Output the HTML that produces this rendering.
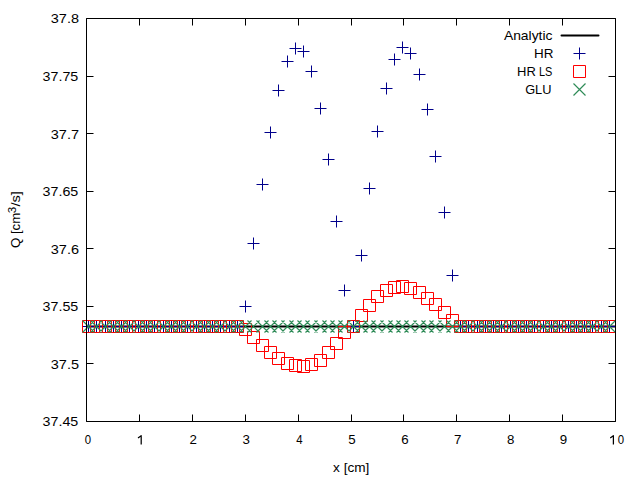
<!DOCTYPE html>
<html><head><meta charset="utf-8"><style>
html,body{margin:0;padding:0;background:#fff;}
svg{display:block;}
text{font-family:"Liberation Sans",sans-serif;font-size:13.3px;fill:#000;}
</style></head><body>
<svg width="640" height="480" viewBox="0 0 640 480">
<rect width="640" height="480" fill="#fff"/>
<defs><clipPath id="c"><rect x="86.5" y="18.5" width="529.0" height="403.0"/></clipPath></defs>
<g clip-path="url(#c)">
<path d="M86.5 326.5H615.5" stroke="#000" stroke-width="2"/>
</g>
<path d="M82.50 326.50h12M88.50 320.50v12M90.50 326.50h12M96.50 320.50v12M99.50 326.50h12M105.50 320.50v12M107.50 326.50h12M113.50 320.50v12M115.50 326.50h12M121.50 320.50v12M123.50 326.50h12M129.50 320.50v12M132.50 326.50h12M138.50 320.50v12M140.50 326.50h12M146.50 320.50v12M148.50 326.50h12M154.50 320.50v12M157.50 326.50h12M163.50 320.50v12M165.50 326.50h12M171.50 320.50v12M173.50 326.50h12M179.50 320.50v12M181.50 326.50h12M187.50 320.50v12M190.50 326.50h12M196.50 320.50v12M198.50 326.50h12M204.50 320.50v12M206.50 326.50h12M212.50 320.50v12M214.50 326.50h12M220.50 320.50v12M223.50 326.50h12M229.50 320.50v12M231.50 326.50h12M237.50 320.50v12M239.50 306.50h12M245.50 300.50v12M247.50 243.50h12M253.50 237.50v12M256.50 184.50h12M262.50 178.50v12M264.50 132.50h12M270.50 126.50v12M272.50 90.50h12M278.50 84.50v12M281.50 61.50h12M287.50 55.50v12M289.50 48.50h12M295.50 42.50v12M297.50 51.50h12M303.50 45.50v12M305.50 71.50h12M311.50 65.50v12M314.50 108.50h12M320.50 102.50v12M322.50 159.50h12M328.50 153.50v12M330.50 221.50h12M336.50 215.50v12M338.50 290.50h12M344.50 284.50v12M347.50 326.50h12M353.50 320.50v12M355.50 255.50h12M361.50 249.50v12M363.50 188.50h12M369.50 182.50v12M371.50 131.50h12M377.50 125.50v12M380.50 88.50h12M386.50 82.50v12M388.50 59.50h12M394.50 53.50v12M396.50 47.50h12M402.50 41.50v12M404.50 53.50h12M410.50 47.50v12M413.50 74.50h12M419.50 68.50v12M421.50 109.50h12M427.50 103.50v12M429.50 156.50h12M435.50 150.50v12M438.50 212.50h12M444.50 206.50v12M446.50 275.50h12M452.50 269.50v12M454.50 326.50h12M460.50 320.50v12M462.50 326.50h12M468.50 320.50v12M471.50 326.50h12M477.50 320.50v12M479.50 326.50h12M485.50 320.50v12M487.50 326.50h12M493.50 320.50v12M495.50 326.50h12M501.50 320.50v12M504.50 326.50h12M510.50 320.50v12M512.50 326.50h12M518.50 320.50v12M520.50 326.50h12M526.50 320.50v12M528.50 326.50h12M534.50 320.50v12M537.50 326.50h12M543.50 320.50v12M545.50 326.50h12M551.50 320.50v12M553.50 326.50h12M559.50 320.50v12M562.50 326.50h12M568.50 320.50v12M570.50 326.50h12M576.50 320.50v12M578.50 326.50h12M584.50 320.50v12M586.50 326.50h12M592.50 320.50v12M595.50 326.50h12M601.50 320.50v12M603.50 326.50h12M609.50 320.50v12" fill="none" stroke="#00008b" stroke-width="1.0"/>
<path d="M82.50 320.50h12v12h-12ZM90.50 320.50h12v12h-12ZM99.50 320.50h12v12h-12ZM107.50 320.50h12v12h-12ZM115.50 320.50h12v12h-12ZM123.50 320.50h12v12h-12ZM132.50 320.50h12v12h-12ZM140.50 320.50h12v12h-12ZM148.50 320.50h12v12h-12ZM157.50 320.50h12v12h-12ZM165.50 320.50h12v12h-12ZM173.50 320.50h12v12h-12ZM181.50 320.50h12v12h-12ZM190.50 320.50h12v12h-12ZM198.50 320.50h12v12h-12ZM206.50 320.50h12v12h-12ZM214.50 320.50h12v12h-12ZM223.50 320.50h12v12h-12ZM231.50 320.50h12v12h-12ZM239.50 323.50h12v12h-12ZM247.50 331.50h12v12h-12ZM256.50 339.50h12v12h-12ZM264.50 346.50h12v12h-12ZM272.50 352.50h12v12h-12ZM281.50 357.50h12v12h-12ZM289.50 359.50h12v12h-12ZM297.50 360.50h12v12h-12ZM305.50 358.50h12v12h-12ZM314.50 354.50h12v12h-12ZM322.50 346.50h12v12h-12ZM330.50 337.50h12v12h-12ZM338.50 326.50h12v12h-12ZM347.50 320.50h12v12h-12ZM355.50 309.50h12v12h-12ZM363.50 299.50h12v12h-12ZM371.50 290.50h12v12h-12ZM380.50 284.50h12v12h-12ZM388.50 281.50h12v12h-12ZM396.50 280.50h12v12h-12ZM404.50 282.50h12v12h-12ZM413.50 286.50h12v12h-12ZM421.50 292.50h12v12h-12ZM429.50 298.50h12v12h-12ZM438.50 306.50h12v12h-12ZM446.50 314.50h12v12h-12ZM454.50 320.50h12v12h-12ZM462.50 320.50h12v12h-12ZM471.50 320.50h12v12h-12ZM479.50 320.50h12v12h-12ZM487.50 320.50h12v12h-12ZM495.50 320.50h12v12h-12ZM504.50 320.50h12v12h-12ZM512.50 320.50h12v12h-12ZM520.50 320.50h12v12h-12ZM528.50 320.50h12v12h-12ZM537.50 320.50h12v12h-12ZM545.50 320.50h12v12h-12ZM553.50 320.50h12v12h-12ZM562.50 320.50h12v12h-12ZM570.50 320.50h12v12h-12ZM578.50 320.50h12v12h-12ZM586.50 320.50h12v12h-12ZM595.50 320.50h12v12h-12ZM603.50 320.50h12v12h-12Z" fill="none" stroke="#ff0000" stroke-width="1.0"/>
<path d="M82.50 320.50l12 12M82.50 332.50l12 -12M90.50 320.50l12 12M90.50 332.50l12 -12M99.50 320.50l12 12M99.50 332.50l12 -12M107.50 320.50l12 12M107.50 332.50l12 -12M115.50 320.50l12 12M115.50 332.50l12 -12M123.50 320.50l12 12M123.50 332.50l12 -12M132.50 320.50l12 12M132.50 332.50l12 -12M140.50 320.50l12 12M140.50 332.50l12 -12M148.50 320.50l12 12M148.50 332.50l12 -12M157.50 320.50l12 12M157.50 332.50l12 -12M165.50 320.50l12 12M165.50 332.50l12 -12M173.50 320.50l12 12M173.50 332.50l12 -12M181.50 320.50l12 12M181.50 332.50l12 -12M190.50 320.50l12 12M190.50 332.50l12 -12M198.50 320.50l12 12M198.50 332.50l12 -12M206.50 320.50l12 12M206.50 332.50l12 -12M214.50 320.50l12 12M214.50 332.50l12 -12M223.50 320.50l12 12M223.50 332.50l12 -12M231.50 320.50l12 12M231.50 332.50l12 -12M239.50 320.50l12 12M239.50 332.50l12 -12M247.50 320.50l12 12M247.50 332.50l12 -12M256.50 320.50l12 12M256.50 332.50l12 -12M264.50 320.50l12 12M264.50 332.50l12 -12M272.50 320.50l12 12M272.50 332.50l12 -12M281.50 320.50l12 12M281.50 332.50l12 -12M289.50 320.50l12 12M289.50 332.50l12 -12M297.50 320.50l12 12M297.50 332.50l12 -12M305.50 320.50l12 12M305.50 332.50l12 -12M314.50 320.50l12 12M314.50 332.50l12 -12M322.50 320.50l12 12M322.50 332.50l12 -12M330.50 320.50l12 12M330.50 332.50l12 -12M338.50 320.50l12 12M338.50 332.50l12 -12M347.50 320.50l12 12M347.50 332.50l12 -12M355.50 320.50l12 12M355.50 332.50l12 -12M363.50 320.50l12 12M363.50 332.50l12 -12M371.50 320.50l12 12M371.50 332.50l12 -12M380.50 320.50l12 12M380.50 332.50l12 -12M388.50 320.50l12 12M388.50 332.50l12 -12M396.50 320.50l12 12M396.50 332.50l12 -12M404.50 320.50l12 12M404.50 332.50l12 -12M413.50 320.50l12 12M413.50 332.50l12 -12M421.50 320.50l12 12M421.50 332.50l12 -12M429.50 320.50l12 12M429.50 332.50l12 -12M438.50 320.50l12 12M438.50 332.50l12 -12M446.50 320.50l12 12M446.50 332.50l12 -12M454.50 320.50l12 12M454.50 332.50l12 -12M462.50 320.50l12 12M462.50 332.50l12 -12M471.50 320.50l12 12M471.50 332.50l12 -12M479.50 320.50l12 12M479.50 332.50l12 -12M487.50 320.50l12 12M487.50 332.50l12 -12M495.50 320.50l12 12M495.50 332.50l12 -12M504.50 320.50l12 12M504.50 332.50l12 -12M512.50 320.50l12 12M512.50 332.50l12 -12M520.50 320.50l12 12M520.50 332.50l12 -12M528.50 320.50l12 12M528.50 332.50l12 -12M537.50 320.50l12 12M537.50 332.50l12 -12M545.50 320.50l12 12M545.50 332.50l12 -12M553.50 320.50l12 12M553.50 332.50l12 -12M562.50 320.50l12 12M562.50 332.50l12 -12M570.50 320.50l12 12M570.50 332.50l12 -12M578.50 320.50l12 12M578.50 332.50l12 -12M586.50 320.50l12 12M586.50 332.50l12 -12M595.50 320.50l12 12M595.50 332.50l12 -12M603.50 320.50l12 12M603.50 332.50l12 -12" fill="none" stroke="#2e8b57" stroke-width="1.15"/>
<path d="M86.5 18.5H615.5V421.5H86.5ZM86.50 421.5v-7M86.50 18.5v7M139.50 421.5v-7M139.50 18.5v7M192.50 421.5v-7M192.50 18.5v7M245.50 421.5v-7M245.50 18.5v7M298.50 421.5v-7M298.50 18.5v7M351.50 421.5v-7M351.50 18.5v7M403.50 421.5v-7M403.50 18.5v7M456.50 421.5v-7M456.50 18.5v7M509.50 421.5v-7M509.50 18.5v7M562.50 421.5v-7M562.50 18.5v7M615.50 421.5v-7M615.50 18.5v7M86.5 421.50h7M615.5 421.50h-7M86.5 363.50h7M615.5 363.50h-7M86.5 306.50h7M615.5 306.50h-7M86.5 248.50h7M615.5 248.50h-7M86.5 191.50h7M615.5 191.50h-7M86.5 133.50h7M615.5 133.50h-7M86.5 76.50h7M615.5 76.50h-7M86.5 18.50h7M615.5 18.50h-7" fill="none" stroke="#000" stroke-width="1"/>
<path d="M561.5 35.5H598.5" stroke="#000" stroke-width="2" stroke-linecap="round"/>
<path d="M573.5 53.5h12M579.5 47.5v12" stroke="#00008b" stroke-width="1.0" fill="none"/>
<path d="M573.5 65.5h12v12h-12Z" stroke="#ff0000" stroke-width="1.0" fill="none"/>
<path d="M573.5 83.5l12 12M573.5 95.5l12 -12" stroke="#2e8b57" stroke-width="1.15" fill="none"/>
<text x="42.63" y="426.00" textLength="35.67" lengthAdjust="spacingAndGlyphs">37.45</text>
<text x="50.81" y="369.00" textLength="28.16" lengthAdjust="spacingAndGlyphs">37.5</text>
<text x="42.63" y="311.00" textLength="35.67" lengthAdjust="spacingAndGlyphs">37.55</text>
<text x="50.81" y="254.00" textLength="28.16" lengthAdjust="spacingAndGlyphs">37.6</text>
<text x="42.63" y="196.00" textLength="35.67" lengthAdjust="spacingAndGlyphs">37.65</text>
<text x="50.81" y="139.00" textLength="28.16" lengthAdjust="spacingAndGlyphs">37.7</text>
<text x="42.63" y="81.00" textLength="35.67" lengthAdjust="spacingAndGlyphs">37.75</text>
<text x="50.81" y="23.00" textLength="28.16" lengthAdjust="spacingAndGlyphs">37.8</text>
<text x="84.75" y="444.00" textLength="6.35" lengthAdjust="spacingAndGlyphs">0</text>
<text x="189.55" y="444.00" textLength="7.41" lengthAdjust="spacingAndGlyphs">2</text>
<text x="242.45" y="444.00" textLength="7.41" lengthAdjust="spacingAndGlyphs">3</text>
<text x="296.35" y="444.00" textLength="6.35" lengthAdjust="spacingAndGlyphs">4</text>
<text x="348.25" y="444.00" textLength="7.41" lengthAdjust="spacingAndGlyphs">5</text>
<text x="401.15" y="444.00" textLength="7.41" lengthAdjust="spacingAndGlyphs">6</text>
<text x="454.05" y="444.00" textLength="7.41" lengthAdjust="spacingAndGlyphs">7</text>
<text x="506.95" y="444.00" textLength="7.41" lengthAdjust="spacingAndGlyphs">8</text>
<text x="559.85" y="444.00" textLength="7.41" lengthAdjust="spacingAndGlyphs">9</text>
<text x="617.70" y="444.00" textLength="6.35" lengthAdjust="spacingAndGlyphs">0</text>
<text x="503.90" y="40.00" textLength="48.59" lengthAdjust="spacingAndGlyphs">Analytic</text>
<text x="533.99" y="58.30" textLength="19.44" lengthAdjust="spacingAndGlyphs">HR</text>
<text x="517.02" y="76.30" textLength="18.77" lengthAdjust="spacingAndGlyphs">HR</text>
<text x="538.98" y="76.30" textLength="13.34" lengthAdjust="spacingAndGlyphs">LS</text>
<text x="525.14" y="94.20" textLength="26.29" lengthAdjust="spacingAndGlyphs">GLU</text>
<text x="333.10" y="471.70" textLength="36.28" lengthAdjust="spacingAndGlyphs">x [cm]</text>
<path d="M141.20 435.2V444.6M138.00 437.9L141.50 435.4M613.40 435.2V444.6M610.20 437.9L613.70 435.4" stroke="#000" stroke-width="1.25" fill="none"/>
<text transform="rotate(-90)" x="-248.09" y="20.20" textLength="35.26" lengthAdjust="spacingAndGlyphs">Q [cm</text>
<text transform="rotate(-90)" x="-213.27" y="15.80" textLength="6.42" lengthAdjust="spacingAndGlyphs" style="font-size:10.6px">3</text>
<text transform="rotate(-90)" x="-206.60" y="20.20" textLength="15.45" lengthAdjust="spacingAndGlyphs">/s]</text>
</svg>
</body></html>
